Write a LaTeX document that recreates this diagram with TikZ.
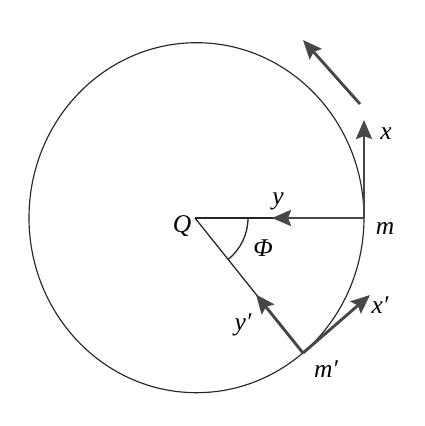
\documentclass[tikz,border=0pt]{standalone}
\usepackage{fontspec}
\setmainfont{Liberation Serif}
\usetikzlibrary{arrows.meta}
\begin{document}
\begin{tikzpicture}[x=1pt,y=1pt,
  thinline/.style={line width=1.3pt,draw=black!85},
  vec/.style={line width=2.9pt,draw=black!72,-{Stealth[length=19pt,width=16pt,inset=3pt]}},
  lbl/.style={inner sep=0pt,font=\fontsize{25.5}{29}\selectfont\itshape}]
\useasboundingbox (0,0) rectangle (424,-426);
\draw[line width=1.15pt,black!85] (196.5,-217.7) ellipse [x radius=167.5, y radius=175];
\coordinate (Q) at (195,-218);
\coordinate (m) at (364,-218);
\coordinate (mp) at (303,-353);
\coordinate (ytip) at (272,-218);
\coordinate (xtip) at (364,-120);
\coordinate (yptip) at (256,-294.5);
\coordinate (xptip) at (370,-295);
\coordinate (rotA) at (360,-104);
\coordinate (rotB) at (303,-40);
\draw[thinline] (Q) -- (m);
\draw[thinline] (Q) -- (mp);
\draw[thinline] ([shift={(0:53)}]Q) arc[start angle=0,end angle=-51,radius=53];
\draw[vec] (m) -- (ytip);
\draw[vec] (m) -- (xtip);
\draw[vec] (mp) -- (yptip);
\draw[vec] (mp) -- (xptip);
\draw[vec] (rotA) -- (rotB);
\node[lbl] (lQ) at (182,-226) {Q};
\node[lbl] (ly) at (278,-201) {y};
\node[lbl] (lphi) at (263,-248) {Φ};
\node[lbl] (lm) at (385,-228) {m};
\node[lbl] (lx) at (386,-134) {x};
\node[lbl] (lyp) at (243,-325) {y′};
\node[lbl] (lxp) at (380,-305) {x′};
\node[lbl] (lmp) at (326,-369) {m′};
\end{tikzpicture}
\end{document}
